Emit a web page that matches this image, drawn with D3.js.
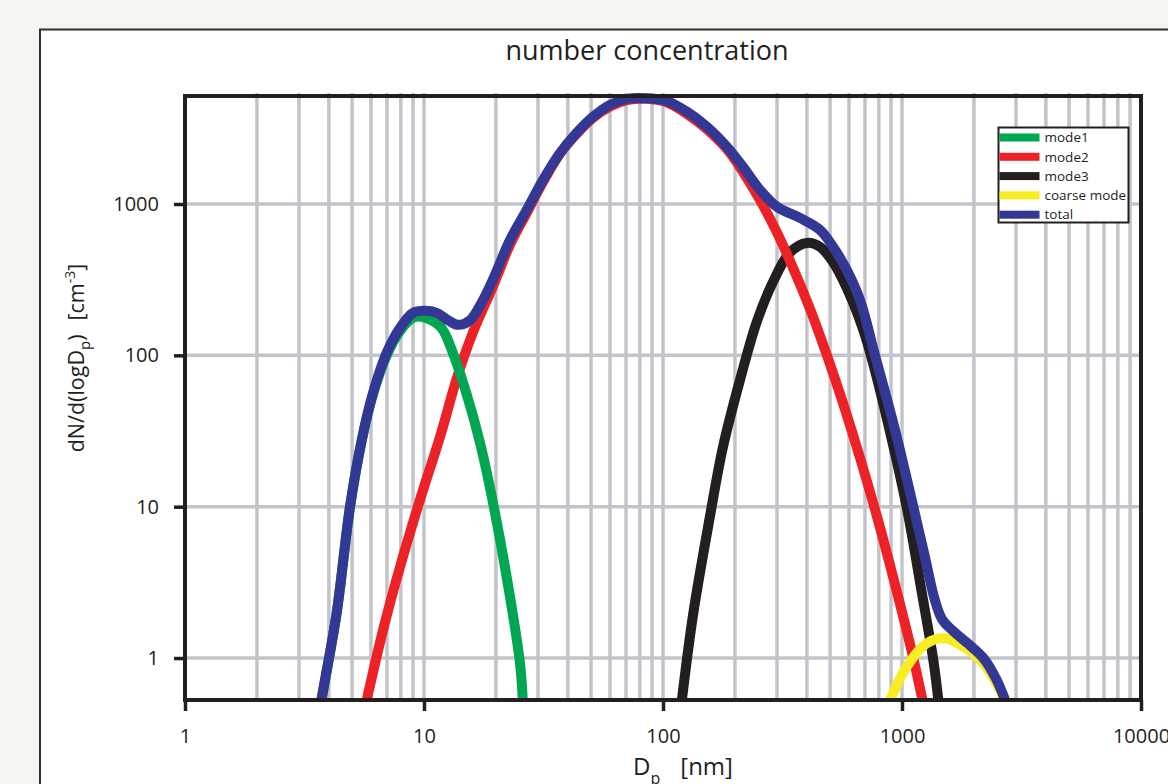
<!DOCTYPE html>
<html>
<head>
<meta charset="utf-8">
<script src="https://cdn.jsdelivr.net/npm/d3@7"></script>
<style>
  body { margin: 0; background: #f5f4f1; }
  text { font-family: "Open Sans", sans-serif; fill: #231f20; }
</style>
</head>
<body>
<div id="chart"></div>
<script>
// size distribution: [Dp in nm, dN/dlogDp in cm^-3]
var mode1 = [[3.71,0.512],[4.31,1.98],[4.90,9.9],[5.49,27.4],[6.12,55.5],[6.98,100],[7.94,145],
  [8.99,177],[9.78,180],[11.7,155],[13.2,104],[15.1,55],[17.2,26],[19.4,10.8],[22.2,3.4],
  [25.2,0.93],[25.9,0.528]];
var mode2 = [[5.76,0.528],[6.74,1.53],[7.94,4.01],[9.62,11.1],[11.7,29.3],[13.7,70],[16.0,141],
  [19.4,284],[22.9,537],[26.9,873],[31.5,1400],[37.1,2150],[43.5,2905],[50.9,3707],[60.0,4400],
  [70.5,4850],[85.5,4960],[103.6,4700],[125.7,3950],[152.3,3136],[184.7,2313],[216.1,1630],
  [254.6,1064],[299,654],[350,378],[412,203],[484,101],[566,48.5],[667,21.1],[794,8.11],
  [935,3.06],[1115,1.0],[1218,0.528]];
var mode3 = [[119.7,0.514],[133.5,1.92],[157.3,8.68],[178.2,24.8],[210,68.8],[246.6,166],
  [288.6,306],[340,479],[399,553],[454,521],[514,414],[587,279],[689,147],[756,89.1],[891,31.2],
  [1052,9.51],[1209,2.73],[1352,0.97],[1419,0.528]];
var coarse = [[891,0.528],[1046,0.876],[1268,1.25],[1514,1.35],[1805,1.19],[2189,0.922],[2698,0.528]];
var total = [[3.71,0.512],[3.85,0.716],[4.31,1.98],[4.90,9.95],[5.49,27.6],[6.12,56.4],[6.98,104],
  [7.94,152],[8.99,191],[10.1,197],[11.3,191],[12.6,171],[13.9,159],[15.6,171],[17.4,222],
  [19.4,315],[22.9,579],[26.9,914],[31.5,1443],[37.1,2176],[43.5,2951],[50.9,3765],[60.0,4519],
  [70.5,4950],[85.5,5000],[103.6,4800],[125.7,4080],[152.3,3248],[184.7,2395],[216.1,1759],
  [254.6,1239],[299,961],[374,809],[454,674],[514,523],[587,367],[667,232],[771,100],[935,32.1],
  [1115,10],[1248,4.65],[1361,2.53],[1470,1.81],[1635,1.51],[1871,1.26],[2189,1.0],[2490,0.716],
  [2698,0.528]];

var seriesNames = ["mode1", "mode2", "mode3", "coarse mode", "total"];
var xTicks = [1, 10, 100, 1000, 10000];
var yTicks = [1, 10, 100, 1000];
var xDomain = [1, 10000];
var yDomain = [0.528, 5172];

var colors = {};
colors["mode1"] = "#00a651";
colors["mode2"] = "#ed2227";
colors["mode3"] = "#231f20";
colors["coarse mode"] = "#f8ec22";
colors["total"] = "#323893";

var width = 1168, height = 784;
var plotLeft = 185, plotRight = 1141, plotTop = 96, plotBottom = 700;

var svg = d3.select("#chart").append("svg")
    .attr("width", width)
    .attr("height", height);

svg.append("rect")
    .attr("width", width).attr("height", height)
    .attr("fill", "#f5f4f1");

// white panel, runs off the right and bottom edges
svg.append("rect")
    .attr("x", 40).attr("y", 29.5)
    .attr("width", 1200).attr("height", 800)
    .attr("fill", "#ffffff")
    .attr("stroke", "#2e2e2e")
    .attr("stroke-width", 2);

var x = d3.scaleLog().domain(xDomain).range([plotLeft, plotRight]);
var y = d3.scaleLog().domain(yDomain).range([plotBottom, plotTop]);

// grid
var xGrid = [];
for (var e = 0; e < 4; e++) {
  for (var k = 1; k <= 9; k++) {
    var v = k * Math.pow(10, e);
    if (v > xDomain[0]) xGrid.push(v);
  }
}
svg.append("g").selectAll("line")
    .data(xGrid)
    .enter().append("line")
    .attr("x1", function(d) { return x(d); })
    .attr("x2", function(d) { return x(d); })
    .attr("y1", plotTop - 3)
    .attr("y2", plotBottom)
    .attr("stroke", "#c2c4ca")
    .attr("stroke-width", 3.5);

svg.append("g").selectAll("line")
    .data(yTicks)
    .enter().append("line")
    .attr("x1", plotLeft)
    .attr("x2", plotRight)
    .attr("y1", function(d) { return y(d); })
    .attr("y2", function(d) { return y(d); })
    .attr("stroke", "#c2c4ca")
    .attr("stroke-width", 3.5);

// curves
svg.append("clipPath").attr("id", "plotClip")
  .append("rect")
    .attr("x", plotLeft).attr("y", 0)
    .attr("width", plotRight - plotLeft).attr("height", plotBottom + 2);

var line = d3.line()
    .x(function(d) { return x(d[0]); })
    .y(function(d) { return y(d[1]); })
    .curve(d3.curveCatmullRom.alpha(0.5));

var curves = [
  { name: "mode3", values: mode3 },
  { name: "mode2", values: mode2 },
  { name: "mode1", values: mode1 },
  { name: "coarse mode", values: coarse },
  { name: "total", values: total }
];

svg.append("g")
    .attr("clip-path", "url(#plotClip)")
  .selectAll("path")
    .data(curves)
    .enter().append("path")
    .attr("d", function(d) { return line(d.values); })
    .attr("fill", "none")
    .attr("stroke", function(d) { return colors[d.name]; })
    .attr("stroke-width", 10)
    .attr("stroke-linejoin", "round");

// frame + axes
svg.append("rect")
    .attr("x", plotLeft).attr("y", plotTop)
    .attr("width", plotRight - plotLeft).attr("height", plotBottom - plotTop)
    .attr("fill", "none")
    .attr("stroke", "#231f20")
    .attr("stroke-width", 4);

var xAxis = d3.axisBottom(x)
    .tickValues(xTicks)
    .tickFormat(d3.format("d"))
    .tickSize(11)
    .tickPadding(18);
var yAxis = d3.axisLeft(y)
    .tickValues(yTicks)
    .tickFormat(d3.format("d"))
    .tickSize(11)
    .tickPadding(15);

var gx = svg.append("g")
    .attr("transform", "translate(0," + plotBottom + ")")
    .call(xAxis);
var gy = svg.append("g")
    .attr("transform", "translate(" + plotLeft + ",0)")
    .call(yAxis);

[gx, gy].forEach(function(g) {
  g.select(".domain").remove();
  g.selectAll(".tick line").attr("stroke", "#231f20").attr("stroke-width", 3.5);
  g.selectAll(".tick text")
    .attr("fill", "#231f20")
    .style("font-family", "'Open Sans', sans-serif")
    .style("font-size", "20px");
});

// titles
svg.append("text")
    .attr("x", 647).attr("y", 60)
    .attr("text-anchor", "middle")
    .style("font-size", "27px")
    .text("number concentration");

var xl = svg.append("text")
    .attr("x", 683).attr("y", 775)
    .attr("text-anchor", "middle")
    .style("font-size", "24px");
xl.append("tspan").text("D");
xl.append("tspan").attr("dy", 9).style("font-size", "16px").text("p");
xl.append("tspan").attr("dy", -9).attr("dx", 20).text("[nm]");

var yl = svg.append("text")
    .attr("transform", "translate(84,358) rotate(-90)")
    .attr("text-anchor", "middle")
    .style("font-size", "21.5px");
yl.append("tspan").text("dN/d(logD");
yl.append("tspan").attr("dy", 6).style("font-size", "15px").text("p");
yl.append("tspan").attr("dy", -6).text(")");
yl.append("tspan").attr("dx", 14).text("[cm");
yl.append("tspan").attr("dy", -9).style("font-size", "14px").text("-3");
yl.append("tspan").attr("dy", 9).text("]");

// legend
var legend = svg.append("g").attr("transform", "translate(998.5,127.5)");
legend.append("rect")
    .attr("width", 130).attr("height", 95)
    .attr("fill", "#ffffff")
    .attr("stroke", "#231f20")
    .attr("stroke-width", 2);

var items = legend.selectAll(".item")
    .data(seriesNames)
    .enter().append("g")
    .attr("class", "item")
    .attr("transform", function(d, i) { return "translate(0," + (10 + i * 19.3) + ")"; });
items.append("rect")
    .attr("x", 1).attr("y", -4)
    .attr("width", 40).attr("height", 8)
    .attr("fill", function(d) { return colors[d]; });
items.append("text")
    .attr("x", 46).attr("dy", "0.35em")
    .style("font-size", "13.5px")
    .text(function(d) { return d; });
</script>
</body>
</html>
